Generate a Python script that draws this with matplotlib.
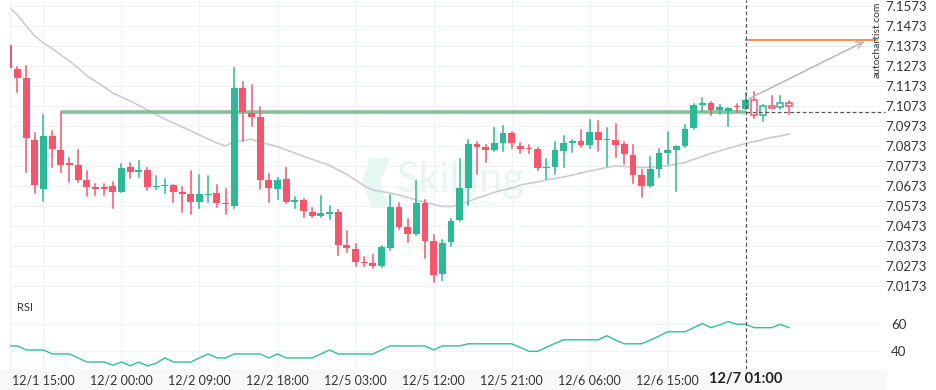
import numpy as np
import matplotlib
matplotlib.use("Agg")
import matplotlib.pyplot as plt
from matplotlib.patches import Polygon, Rectangle
from matplotlib.transforms import blended_transform_factory

plt.rcParams['font.family'] = ['Lato', 'DejaVu Sans']

# hourly candles, index 0 = 12/1 11:00
opens = [7.1378, 7.1258, 7.1212, 7.0902, 7.0660, 7.0923, 7.0853, 7.0785, 7.0778, 7.0703,
         7.0668, 7.0668, 7.0673, 7.0645, 7.0768, 7.0745, 7.0753, 7.0667, 7.0673, 7.0678,
         7.0643, 7.0633, 7.0595, 7.0628, 7.0638, 7.0588, 7.0575, 7.1165, 7.1040, 7.1020,
         7.0703, 7.0660, 7.0708, 7.0595, 7.0603, 7.0543, 7.0525, 7.0535, 7.0545, 7.0378,
         7.0358, 7.0295, 7.0288, 7.0275, 7.0365, 7.0568, 7.0468, 7.0433, 7.0590, 7.0400,
         7.0235, 7.0395, 7.0505, 7.0663, 7.0885, 7.0868, 7.0853, 7.0888, 7.0938, 7.0873,
         7.0863, 7.0858, 7.0763, 7.0770, 7.0848, 7.0890, 7.0898, 7.0880, 7.0943, 7.0903,
         7.0903, 7.0883, 7.0828, 7.0728, 7.0673, 7.0757, 7.0840, 7.0855, 7.0875, 7.0965,
         7.1080, 7.1088, 7.1052, 7.1048, 7.1072, 7.1060, 7.1102, 7.1027, 7.1073, 7.1067,
         7.1087]
highs = [7.1383, 7.1267, 7.1275, 7.0937, 7.1027, 7.0950, 7.1043, 7.0812, 7.0852, 7.0747,
         7.0682, 7.0682, 7.0692, 7.0783, 7.0788, 7.0797, 7.0762, 7.0722, 7.0710, 7.0678,
         7.0670, 7.0747, 7.0727, 7.0722, 7.0678, 7.0657, 7.1262, 7.1192, 7.1178, 7.1066,
         7.0731, 7.0712, 7.0762, 7.0620, 7.0608, 7.0562, 7.0622, 7.0572, 7.0553, 7.0448,
         7.0382, 7.0318, 7.0328, 7.0375, 7.0627, 7.0587, 7.0507, 7.0698, 7.0603, 7.0428,
         7.0405, 7.0507, 7.0808, 7.0903, 7.0895, 7.0876, 7.0962, 7.0973, 7.0943, 7.0890,
         7.0876, 7.0865, 7.0808, 7.0892, 7.0922, 7.0903, 7.0953, 7.1002, 7.0997, 7.0962,
         7.0982, 7.0895, 7.0876, 7.0753, 7.0820, 7.0857, 7.0942, 7.0872, 7.0978, 7.1082,
         7.1115, 7.1092, 7.1077, 7.1063, 7.1083, 7.1137, 7.1142, 7.1077, 7.1122, 7.1122,
         7.1097]
lows = [7.1260, 7.1142, 7.0742, 7.0637, 7.0600, 7.0770, 7.0742, 7.0695, 7.0692, 7.0622,
        7.0627, 7.0627, 7.0562, 7.0642, 7.0715, 7.0717, 7.0655, 7.0658, 7.0637, 7.0592,
        7.0542, 7.0532, 7.0562, 7.0595, 7.0567, 7.0532, 7.0562, 7.0898, 7.0971, 7.0657,
        7.0595, 7.0607, 7.0590, 7.0562, 7.0520, 7.0517, 7.0520, 7.0507, 7.0328, 7.0343,
        7.0275, 7.0273, 7.0262, 7.0270, 7.0353, 7.0460, 7.0392, 7.0428, 7.0312, 7.0195,
        7.0203, 7.0373, 7.0500, 7.0578, 7.0731, 7.0795, 7.0850, 7.0850, 7.0865, 7.0837,
        7.0837, 7.0755, 7.0707, 7.0733, 7.0770, 7.0842, 7.0867, 7.0865, 7.0850, 7.0775,
        7.0817, 7.0781, 7.0687, 7.0620, 7.0670, 7.0717, 7.0781, 7.0648, 7.0870, 7.0957,
        7.1048, 7.1027, 7.1032, 7.0971, 7.1045, 7.1060, 7.1012, 7.0996, 7.1063, 7.1058,
        7.1035]
closes = [7.1262, 7.1212, 7.0912, 7.0680, 7.0923, 7.0860, 7.0780, 7.0780, 7.0705, 7.0670,
          7.0660, 7.0660, 7.0645, 7.0763, 7.0745, 7.0753, 7.0670, 7.0675, 7.0680, 7.0645,
          7.0635, 7.0595, 7.0633, 7.0633, 7.0587, 7.0583, 7.1165, 7.1045, 7.1020, 7.0703,
          7.0665, 7.0703, 7.0595, 7.0605, 7.0550, 7.0525, 7.0537, 7.0543, 7.0378, 7.0365,
          7.0295, 7.0288, 7.0275, 7.0370, 7.0568, 7.0467, 7.0433, 7.0590, 7.0400, 7.0228,
          7.0388, 7.0500, 7.0663, 7.0885, 7.0870, 7.0853, 7.0888, 7.0938, 7.0890, 7.0858,
          7.0858, 7.0762, 7.0768, 7.0853, 7.0890, 7.0898, 7.0878, 7.0943, 7.0905, 7.0910,
          7.0880, 7.0835, 7.0728, 7.0673, 7.0758, 7.0837, 7.0853, 7.0872, 7.0957, 7.1078,
          7.1088, 7.1052, 7.1068, 7.1063, 7.1067, 7.1102, 7.1027, 7.1072, 7.1064, 7.1087,
          7.1072]

# gray moving average
ma = [7.1568, 7.1528, 7.1473, 7.1423, 7.1388, 7.1361, 7.1328, 7.1298, 7.1263, 7.1224,
      7.1196, 7.1168, 7.1138, 7.1118, 7.1098, 7.1076, 7.1053, 7.1031, 7.1008, 7.0988,
      7.0968, 7.0948, 7.0928, 7.0908, 7.0888, 7.0873, 7.0895, 7.0901, 7.0907, 7.0892,
      7.0881, 7.0870, 7.0853, 7.0838, 7.0821, 7.0806, 7.0791, 7.0776, 7.0753, 7.0731,
      7.0703, 7.0673, 7.0653, 7.0645, 7.0638, 7.0628, 7.0616, 7.0603, 7.0593, 7.0581,
      7.0571, 7.0570, 7.0578, 7.0596, 7.0612, 7.0626, 7.0641, 7.0653, 7.0663, 7.0678,
      7.0686, 7.0693, 7.0703, 7.0711, 7.0718, 7.0728, 7.0738, 7.0748, 7.0756, 7.0766,
      7.0773, 7.0771, 7.0768, 7.0765, 7.0768, 7.0771, 7.0773, 7.0783, 7.0790, 7.0806,
      7.0821, 7.0837, 7.0848, 7.0861, 7.0873, 7.0886, 7.0895, 7.0906, 7.0916, 7.0923,
      7.0933]

rsi = [43.6, 43.6, 40.5, 40.5, 40.5, 37.5, 37.5, 37.5, 34.5, 31.4,
       31.4, 31.4, 29.0, 31.4, 28.5, 31.4, 28.5, 30.5, 34.5, 31.4,
       31.4, 31.4, 34.5, 37.5, 34.5, 34.5, 37.5, 37.5, 37.5, 37.5,
       34.5, 37.5, 34.5, 34.5, 34.5, 34.5, 37.5, 40.5, 37.5, 37.5,
       37.5, 37.5, 37.5, 40.5, 43.6, 43.6, 43.6, 43.6, 43.6, 40.5,
       43.6, 43.6, 43.6, 45.2, 45.2, 45.2, 45.2, 45.2, 45.2, 42.5,
       39.5, 39.5, 42.5, 45.5, 48.2, 48.2, 48.2, 48.2, 48.2, 51.3,
       48.0, 45.2, 45.2, 45.2, 48.0, 51.0, 54.3, 54.3, 54.3, 57.4,
       60.5, 57.4, 59.5, 62.0, 60.0, 60.0, 57.4, 57.4, 57.4, 60.0,
       57.4]

xtick_idx = [4, 13, 22, 31, 40, 49, 58, 67, 76]
xtick_labels = ['12/1 15:00', '12/2 00:00', '12/2 09:00', '12/2 18:00', '12/5 03:00',
                '12/5 12:00', '12/5 21:00', '12/6 06:00', '12/6 15:00']
cross_idx = 85
cross_label = '12/7 01:00'

price_ticks = [7.0173, 7.0273, 7.0373, 7.0473, 7.0573, 7.0673, 7.0773, 7.0873,
               7.0973, 7.1073, 7.1173, 7.1273, 7.1373, 7.1473, 7.1573]
rsi_ticks = [40, 60]

support_level = 7.1042
support_start = 6
target_level = 7.1402
arrow_from = (85.1, 7.1103)
arrow_to = (99, 7.1402)

GREEN = '#2bb996'
RED = '#f5566c'
GRID = '#eef1f6'
TXT = '#333333'

W, H = 936, 390
fig = plt.figure(figsize=(W / 100, H / 100), dpi=100)

def fx(px):
    return px / W

def fy(py):
    return 1 - py / H

# x label band behind the time labels
fig.patches.append(Rectangle((0, 0), fx(887), fy(369), transform=fig.transFigure,
                             facecolor='#f7f8fa', edgecolor='none', zorder=-2))

# watermark
fig.text(fx(397), fy(192), 'Skilling', fontsize=30, color='#e6f6f1', ha='left', va='baseline', zorder=-1)
fig.text(fx(400), fy(207), 'Hold. Trade. Grow.', fontsize=8.5, color='#eaf7f3', ha='left', va='baseline', zorder=-1)
chev = [(370, 158), (390, 158), (380, 183), (390, 208), (372, 208), (362, 183)]
fig.patches.append(Polygon([(fx(a), fy(b)) for a, b in chev], closed=True, transform=fig.transFigure,
                           facecolor='#e6f6f1', edgecolor='none', zorder=-1))

ax = fig.add_axes([fx(10), fy(296), fx(870), 296 / H])
ax2 = fig.add_axes([fx(10), fy(369), fx(870), (369 - 296) / H], sharex=ax)
for a in (ax, ax2):
    for s in a.spines.values():
        s.set_visible(False)
    a.spines['left'].set_visible(True)
    a.spines['left'].set_color(GRID)
    a.set_facecolor('none')

x = np.arange(len(opens))
ax.set_xlim(0.14, 100.5)
ax.set_ylim(7.0123, 7.1603)

# grid
ax.set_xticks(xtick_idx)
ax.tick_params(axis='x', length=0, labelbottom=False)
ax.yaxis.tick_right()
ax.set_yticks(price_ticks)
ax.set_yticklabels([f'{t:.4f}' for t in price_ticks])
ax.tick_params(axis='y', length=0, pad=4, labelsize=9.5, labelcolor=TXT)
ax.grid(True, color=GRID, lw=0.8, zorder=0)

# moving average
ax.plot(x, ma, color='#cccccc', lw=1.2, zorder=2)

# support line
ax.plot([support_start, cross_idx], [support_level, support_level], color='#78bb8c', lw=2.6, alpha=0.9,
        solid_capstyle='butt', zorder=2.5)
ax.plot([cross_idx, 101.06], [support_level, support_level], color='#555555', lw=0.9,
        ls=(0, (3, 2)), clip_on=False, zorder=4)

# candles
bw = 0.78
for i in x:
    o, h, l, c = opens[i], highs[i], lows[i], closes[i]
    col = GREEN if c >= o else RED
    ax.plot([i, i], [l, h], color=col, lw=1.1, zorder=3)
    bot = min(o, c)
    hgt = max(abs(c - o), 0.0007)
    if i > cross_idx:
        ax.bar(i, hgt, bottom=bot, width=bw - 0.1, facecolor='white', edgecolor=col, lw=1.1, zorder=3.5)
    else:
        ax.bar(i, hgt, bottom=bot, width=bw, color=col, lw=0, zorder=3.5)

# target + arrow
ax.plot([cross_idx, 100.1], [target_level, target_level], color='#f47a2c', lw=1.2, clip_on=False, zorder=4)
ax.annotate('', xy=arrow_to, xytext=arrow_from,
            arrowprops=dict(arrowstyle='->', color='#bbbbbb', lw=1.2, mutation_scale=12), zorder=4)

fig.text(fx(877), fy(40), 'autochartist.com', rotation=90, ha='center', va='center', fontsize=7.5, color=TXT)

# crosshair
for a in (ax, ax2):
    a.axvline(cross_idx, color='#555555', lw=0.9, ls=(0, (3, 2)), zorder=5)

# RSI
ax2.set_ylim(26.1, 81.4)
ax2.plot(x, rsi, color='#2fbf9d', lw=1.0, zorder=3)
ax2.yaxis.tick_right()
ax2.set_yticks(rsi_ticks)
ax2.tick_params(axis='y', length=0, pad=8, labelsize=9.5, labelcolor=TXT)
ax2.set_xticks(xtick_idx)
ax2.set_xticklabels(xtick_labels)
ax2.tick_params(axis='x', length=0, pad=4, labelsize=9, labelcolor=TXT, labelbottom=True)
ax2.grid(True, color=GRID, lw=0.8, zorder=0)
ax2.text(0.008, 0.84, 'RSI', transform=ax2.transAxes, fontsize=8, color=TXT, ha='left', va='center')
tr = blended_transform_factory(ax2.transData, ax2.transAxes)
ax2.text(cross_idx, -0.14, cross_label, transform=tr, ha='center', va='center', fontsize=10.5,
         fontweight='bold', color='#222222', clip_on=False)

fig.savefig('out.png', dpi=100)
